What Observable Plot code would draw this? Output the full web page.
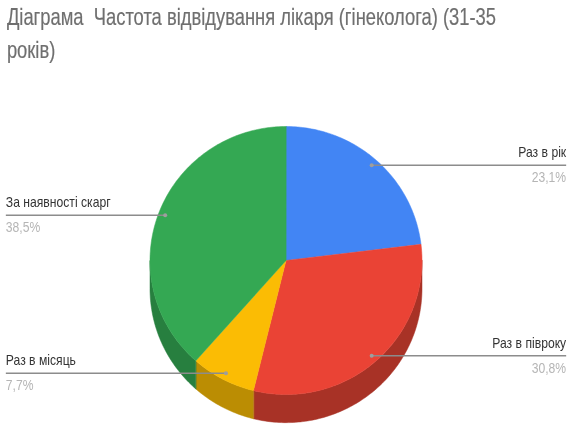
<!DOCTYPE html>
<html>
<head>
<meta charset="utf-8">
<script src="https://cdn.jsdelivr.net/npm/d3@7"></script>
<script src="https://cdn.jsdelivr.net/npm/@observablehq/plot@0.6"></script>
<style>
html,body{margin:0;padding:0;background:#fff;overflow:hidden}
#wrap{width:578px;height:428px;filter:blur(0.45px)}
#titlebox{height:70px;width:578px;overflow:hidden}
#title{display:inline-block;box-sizing:border-box;padding:0 0 0 9px;font:24px/33px "Liberation Sans",Arial,sans-serif;color:#6f6f6f;white-space:pre;transform:scaleX(0.765);transform-origin:0 0;-webkit-text-stroke:0.2px #6f6f6f}
svg{display:block}
</style>
</head>
<body>
<div id="wrap"><div id="titlebox"><div id="title"></div></div><div id="chart"></div></div>
<script>
const titleLines = ["Діаграма  Частота відвідування лікаря (гінеколога) (31-35", "років)"];
const categories = ["Раз в рік", "Раз в півроку", "Раз в місяць", "За наявності скарг"];
const values = [23.1, 30.8, 7.7, 38.5];
const valueLabels = ["23,1%", "30,8%", "7,7%", "38,5%"];
const colors = ["#4285f4", "#ea4335", "#fbbc04", "#34a853"];
const sideColors = ["#2f63b8", "#a83226", "#bb8d03", "#277f3f"];

document.getElementById("title").textContent = titleLines.join("\n");

const total = d3.sum(values);
const TAU = 2 * Math.PI;
const DEPTH = 0.21;   // extrusion in radius units
const LEAD = 0.95;    // where a leader dot sits on the slice
const STEP = TAU / 360;

const pt = (a, r = 1, dy = 0) => ({x: r * Math.sin(a), y: -r * Math.cos(a) + dy});

// slices
let acc = 0;
const slices = categories.map((name, i) => {
  const a0 = acc / total * TAU;
  acc += values[i];
  const a1 = acc / total * TAU;
  return {name, i, a0, a1, mid: (a0 + a1) / 2, label: valueLabels[i]};
});

const arcAngles = (a0, a1) => {
  const n = Math.max(2, Math.ceil((a1 - a0) / STEP));
  return d3.range(n + 1).map(k => a0 + (a1 - a0) * k / n);
};

const topPts = slices.flatMap(s => [
  {...pt(0, 0), i: s.i},
  ...arcAngles(s.a0, s.a1).map(a => ({...pt(a), i: s.i}))
]);

const sidePts = slices.flatMap(s => {
  const a0 = Math.max(s.a0, Math.PI / 2), a1 = Math.min(s.a1, 3 * Math.PI / 2);
  if (a1 <= a0) return [];
  const as = arcAngles(a0, a1);
  return [
    ...as.map(a => ({...pt(a), i: s.i})),
    ...as.slice().reverse().map(a => ({...pt(a, 1, DEPTH), i: s.i}))
  ];
});

const labelSide = s => (s.mid < Math.PI ? 1 : -1);
const edge = {left: -2.06, right: 2.06};
const leaders = slices.map(s => {
  const p = pt(s.mid, LEAD);
  return {...p, x2: labelSide(s) > 0 ? edge.right : edge.left, side: labelSide(s), name: s.name, label: s.label};
});

const font = '"Liberation Sans",Arial,sans-serif';

const chart = Plot.plot({
  width: 578,
  height: 358,
  margin: 0,
  style: {background: "transparent"},
  x: {domain: [-1, 1], range: [149.5, 421.5], axis: null},
  y: {domain: [-1, 1], range: [56, 324], axis: null},
  marks: [
    Plot.line(sidePts, {x: "x", y: "y", z: "i", fill: d => sideColors[d.i], stroke: d => sideColors[d.i], strokeWidth: 0.5, curve: "linear-closed"}),
    Plot.line(topPts, {x: "x", y: "y", z: "i", fill: d => colors[d.i], stroke: d => colors[d.i], strokeWidth: 0.5, curve: "linear-closed"}),
    Plot.link(leaders, {x1: "x", y1: "y", x2: "x2", y2: "y", stroke: "#8c8c8c", strokeWidth: 1.5}),
    Plot.dot(leaders, {x: "x", y: "y", r: 2, fill: "#9e9e9e"}),
    Plot.text(leaders.filter(d => d.side > 0), {x: "x2", y: "y", text: "name", textAnchor: "end", dy: -13, fontSize: 15, fontFamily: font, fill: "#333333"}),
    Plot.text(leaders.filter(d => d.side < 0), {x: "x2", y: "y", text: "name", textAnchor: "start", dy: -13, fontSize: 15, fontFamily: font, fill: "#333333"}),
    Plot.text(leaders.filter(d => d.side > 0), {x: "x2", y: "y", text: "label", textAnchor: "end", dy: 12, fontSize: 15, fontFamily: font, fill: "#b5b5b5"}),
    Plot.text(leaders.filter(d => d.side < 0), {x: "x2", y: "y", text: "label", textAnchor: "start", dy: 12, fontSize: 15, fontFamily: font, fill: "#b5b5b5"})
  ]
});
document.getElementById("chart").appendChild(chart);
chart.querySelectorAll("text").forEach(t => {
  t.setAttribute("lengthAdjust", "spacingAndGlyphs");
  t.setAttribute("textLength", t.getComputedTextLength() * 0.81);
});
</script>
</body>
</html>
